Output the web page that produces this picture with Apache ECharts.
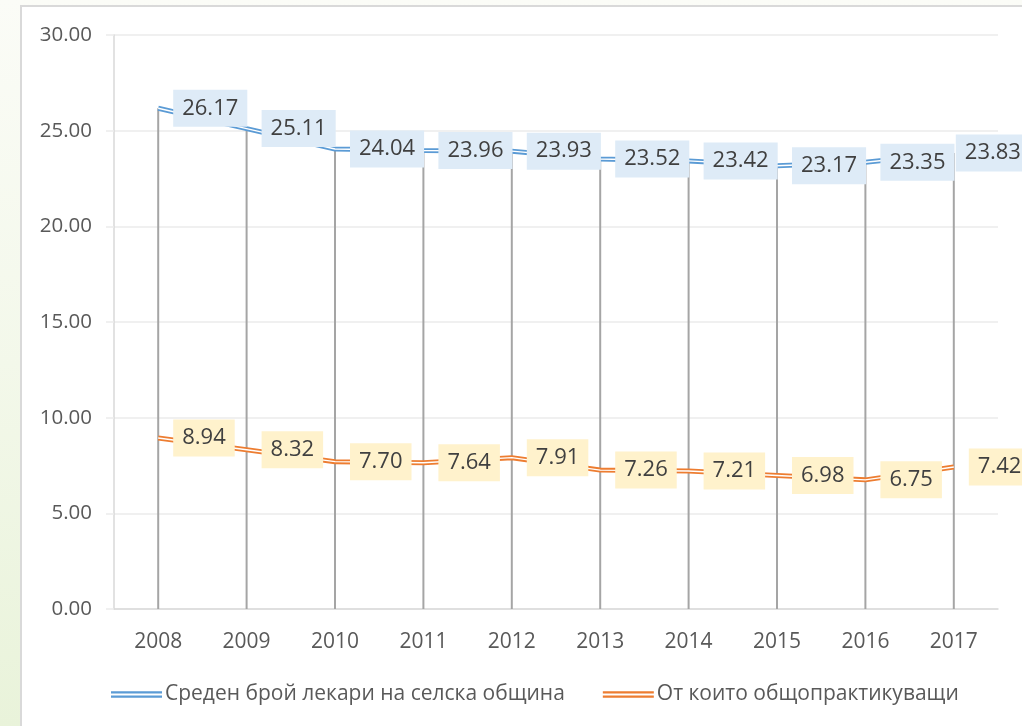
<!DOCTYPE html>
<html>
<head>
<meta charset="utf-8">
<script src="https://cdn.jsdelivr.net/npm/echarts@6/dist/echarts.min.js"></script>
<style>
html,body{margin:0;padding:0;width:1022px;height:726px;overflow:hidden;}
body{background:linear-gradient(to bottom,#fbfcf7 0%,#f3f8ea 50%,#e9f3da 100%);}
#frame{position:absolute;left:20px;top:5px;width:1010px;height:730px;background:#fff;border:2px solid #d9d9d9;box-sizing:border-box;}
#chart{position:absolute;left:0;top:0;width:1022px;height:726px;}
</style>
</head>
<body>
<div id="frame"></div>
<div id="chart"></div>
<script>
const years = ['2008','2009','2010','2011','2012','2013','2014','2015','2016','2017'];
const doctorsAvg = [26.17,25.11,24.04,23.96,23.93,23.52,23.42,23.17,23.35,23.83];
const generalPractitioners = [8.94,8.32,7.70,7.64,7.91,7.26,7.21,6.98,6.75,7.42];
const seriesNames = ['Среден брой лекари на селска община','От които общопрактикуващи'];
const yTicks = {min:0,max:30,interval:5};

const FONT = '"Open Sans", sans-serif';
const blue = '#5b9bd5', orange = '#ed7d31';

function labelCfg(bg){
  return {show:true,position:'right',distance:15,formatter:p=>Number(p.value).toFixed(2),opacity:1,
    color:'#404040',fontFamily:FONT,fontSize:22,lineHeight:27,backgroundColor:bg,padding:[5,9,5,9]};
}
const blueLabelData = doctorsAvg.map((v,i)=> i===doctorsAvg.length-1 ? {value:v,label:{offset:[-13,0]}} : v);

const chart = echarts.init(document.getElementById('chart'));
chart.setOption({
  animation:false,
  backgroundColor:'transparent',
  grid:{left:114,right:24,top:35,bottom:117,containLabel:false},
  legend:{
    bottom:16,left:106,itemWidth:51,itemHeight:7,itemGap:38,
    textStyle:{color:'#595959',fontFamily:FONT,fontSize:21,padding:[0,0,0,-2]},
    data:[
      {name:seriesNames[0],icon:'path://M0,0H50V2.2H0Z M0,4.4H50V6.6H0Z',itemStyle:{color:blue}},
      {name:seriesNames[1],icon:'path://M0,0H50V2.2H0Z M0,4.4H50V6.6H0Z',itemStyle:{color:orange}}
    ]
  },
  xAxis:{type:'category',data:years,boundaryGap:true,
    axisLine:{lineStyle:{color:'#d9d9d9',width:1.5}},axisTick:{show:false},
    axisLabel:{color:'#595959',fontFamily:FONT,fontSize:21,margin:23}},
  yAxis:{type:'value',min:yTicks.min,max:yTicks.max,interval:yTicks.interval,
    axisLine:{show:true,lineStyle:{color:'#d9d9d9',width:1.5}},
    axisTick:{show:true,length:8,lineStyle:{color:'#ebebeb',width:1.5}},
    splitLine:{lineStyle:{color:'#ebebeb',width:1.5}},
    axisLabel:{color:'#595959',fontFamily:FONT,fontSize:20.5,margin:22,formatter:v=>v.toFixed(2)}},
  series:[
    {name:'drop',type:'bar',data:doctorsAvg,barWidth:2,itemStyle:{color:'#a5a5a5'},z:1,silent:true},
    {name:seriesNames[0],type:'line',data:doctorsAvg,symbol:'none',
      lineStyle:{color:blue,width:5},itemStyle:{color:blue},z:3},
    {name:'b_inner',type:'line',data:doctorsAvg,symbol:'none',lineStyle:{color:'#fff',width:1.4},z:4,silent:true},
    {name:seriesNames[1],type:'line',data:generalPractitioners,symbol:'none',
      lineStyle:{color:orange,width:5},itemStyle:{color:orange},z:3},
    {name:'o_inner',type:'line',data:generalPractitioners,symbol:'none',lineStyle:{color:'#fff',width:1.4},z:4,silent:true},
    {name:'b_labels',type:'scatter',data:blueLabelData,symbolSize:0,z:10,silent:true,itemStyle:{opacity:1},label:labelCfg('#deebf7')},
    {name:'o_labels',type:'scatter',data:generalPractitioners,symbolSize:0,z:10,silent:true,itemStyle:{opacity:1},label:labelCfg('#fff2cc')}
  ]
});
</script>
</body>
</html>
